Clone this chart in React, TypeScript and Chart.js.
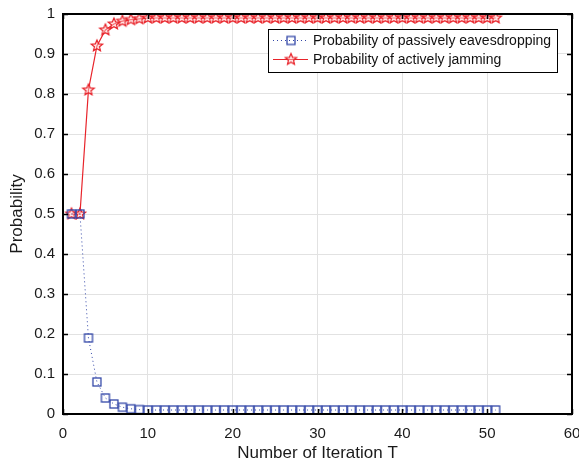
import React, { useEffect, useRef } from "react";
import { Chart, registerables } from "chart.js";

Chart.register(...registerables);

const iterations = [1, 2, 3, 4, 5, 6, 7, 8, 9, 10, 11, 12, 13, 14, 15, 16, 17, 18, 19, 20, 21, 22, 23, 24, 25, 26, 27, 28, 29, 30, 31, 32, 33, 34, 35, 36, 37, 38, 39, 40, 41, 42, 43, 44, 45, 46, 47, 48, 49, 50, 51];

const eavesdropping = [0.5, 0.5, 0.19, 0.08, 0.04, 0.025, 0.017, 0.013, 0.011, 0.01, 0.01, 0.01, 0.01, 0.01, 0.01, 0.01, 0.01, 0.01, 0.01, 0.01, 0.01, 0.01, 0.01, 0.01, 0.01, 0.01, 0.01, 0.01, 0.01, 0.01, 0.01, 0.01, 0.01, 0.01, 0.01, 0.01, 0.01, 0.01, 0.01, 0.01, 0.01, 0.01, 0.01, 0.01, 0.01, 0.01, 0.01, 0.01, 0.01, 0.01, 0.01];

const jamming = [0.5, 0.5, 0.81, 0.92, 0.96, 0.975, 0.982, 0.986, 0.988, 0.99, 0.99, 0.99, 0.99, 0.99, 0.99, 0.99, 0.99, 0.99, 0.99, 0.99, 0.99, 0.99, 0.99, 0.99, 0.99, 0.99, 0.99, 0.99, 0.99, 0.99, 0.99, 0.99, 0.99, 0.99, 0.99, 0.99, 0.99, 0.99, 0.99, 0.99, 0.99, 0.99, 0.99, 0.99, 0.99, 0.99, 0.99, 0.99, 0.99, 0.99, 0.99];

const seriesLabels = ["Probability of passively eavesdropping", "Probability of actively jamming"];
const xTitle = "Number of Iteration T";
const yTitle = "Probability";

const BLUE = "#3347a8";
const RED = "#e8232a";
const FONT = "'Liberation Sans', Arial, sans-serif";

function makeStar(color: string, r: number): HTMLCanvasElement {
  const size = Math.ceil(r * 2 + 4);
  const c = document.createElement("canvas");
  c.width = size;
  c.height = size;
  const g = c.getContext("2d")!;
  const cx = size / 2;
  const cy = size / 2;
  const inner = r * 0.45;
  g.beginPath();
  for (let i = 0; i < 10; i++) {
    const rad = i % 2 === 0 ? r : inner;
    const a = -Math.PI / 2 + (i * Math.PI) / 5;
    const px = cx + rad * Math.cos(a);
    const py = cy + rad * Math.sin(a);
    if (i === 0) g.moveTo(px, py);
    else g.lineTo(px, py);
  }
  g.closePath();
  g.fillStyle = "rgba(255,200,200,0.5)";
  g.fill();
  g.strokeStyle = color;
  g.lineWidth = 1.2;
  g.stroke();
  return c;
}

function makeSquare(color: string, s: number): HTMLCanvasElement {
  const size = Math.ceil(s + 4);
  const c = document.createElement("canvas");
  c.width = size;
  c.height = size;
  const g = c.getContext("2d")!;
  g.strokeStyle = color;
  g.lineWidth = 1.3;
  const o = (size - s) / 2;
  g.strokeRect(o, o, s, s);
  return c;
}

export default function App() {
  const ref = useRef<HTMLCanvasElement>(null);

  useEffect(() => {
    document.body.style.margin = "0";
    const star = makeStar(RED, 6);
    const square = makeSquare(BLUE, 8);

    const framePlugin = {
      id: "frame",
      afterDraw(chart: any) {
        const { ctx, chartArea: a, scales } = chart;
        ctx.save();
        ctx.strokeStyle = "#000";
        ctx.lineWidth = 1.5;
        const tl = 5;
        scales.x.ticks.forEach((t: any) => {
          const px = Math.round(scales.x.getPixelForValue(t.value)) + 0.5;
          ctx.beginPath();
          ctx.moveTo(px, a.bottom);
          ctx.lineTo(px, a.bottom - tl);
          ctx.moveTo(px, a.top);
          ctx.lineTo(px, a.top + tl);
          ctx.stroke();
        });
        scales.y.ticks.forEach((t: any) => {
          const py = Math.round(scales.y.getPixelForValue(t.value)) + 0.5;
          ctx.beginPath();
          ctx.moveTo(a.left, py);
          ctx.lineTo(a.left + tl, py);
          ctx.moveTo(a.right, py);
          ctx.lineTo(a.right - tl, py);
          ctx.stroke();
        });
        ctx.lineWidth = 2;
        ctx.strokeRect(a.left, a.top, a.right - a.left, a.bottom - a.top);

        // legend
        const lx = 268, ly = 29, lw = 289, lh = 43;
        ctx.fillStyle = "#fff";
        ctx.fillRect(lx, ly, lw, lh);
        ctx.lineWidth = 1;
        ctx.strokeStyle = "#000";
        ctx.strokeRect(lx + 0.5, ly + 0.5, lw, lh);
        const rows = [
          { y: 40, color: BLUE, dash: [1, 3], img: square, label: seriesLabels[0] },
          { y: 59, color: RED, dash: [], img: star, label: seriesLabels[1] },
        ];
        rows.forEach((r) => {
          ctx.strokeStyle = r.color;
          ctx.lineWidth = 1;
          ctx.setLineDash(r.dash);
          ctx.beginPath();
          ctx.moveTo(273, r.y + 0.5);
          ctx.lineTo(308, r.y + 0.5);
          ctx.stroke();
          ctx.setLineDash([]);
          ctx.drawImage(r.img, 291 - r.img.width / 2, r.y - r.img.height / 2 + 0.5);
          ctx.fillStyle = "#111";
          ctx.font = `14px ${FONT}`;
          ctx.textBaseline = "middle";
          ctx.textAlign = "left";
          ctx.fillText(r.label, 313, r.y + 1);
        });
        ctx.restore();
      },
    };

    const chart = new Chart(ref.current!, {
      type: "line",
      data: {
        datasets: [
          {
            label: seriesLabels[0],
            data: iterations.map((t, i) => ({ x: t, y: eavesdropping[i] })),
            borderColor: BLUE,
            borderWidth: 1,
            borderDash: [1, 3],
            pointStyle: square as any,
            pointRadius: 5,
            tension: 0,
          },
          {
            label: seriesLabels[1],
            data: iterations.map((t, i) => ({ x: t, y: jamming[i] })),
            borderColor: RED,
            borderWidth: 1.2,
            pointStyle: star as any,
            pointRadius: 6,
            tension: 0,
          },
        ],
      },
      options: {
        animation: false,
        responsive: false,
        maintainAspectRatio: false,
        layout: { autoPadding: false, padding: { top: 14, right: 7, left: 0, bottom: 0 } },
        plugins: { legend: { display: false }, tooltip: { enabled: false } },
        scales: {
          x: {
            type: "linear",
            min: 0,
            max: 60,
            ticks: { stepSize: 10, color: "#1a1a1a", font: { family: FONT, size: 15 }, padding: 11, maxRotation: 0 },
            grid: { color: "#e2e2e2", lineWidth: 1, drawTicks: false },
            border: { display: false },
            title: { display: true, text: xTitle, color: "#1a1a1a", font: { family: FONT, size: 17 }, padding: { top: 0, bottom: 0 } },
            afterFit: (s: any) => {
              s.height = 50;
              s.paddingLeft = 0;
              s.paddingRight = 0;
            },
          },
          y: {
            min: 0,
            max: 1,
            ticks: {
              stepSize: 0.1,
              color: "#1a1a1a",
              font: { family: FONT, size: 15 },
              padding: 8,
              callback: (v: any) => String(Number(Number(v).toFixed(1))),
            },
            grid: { color: "#e2e2e2", lineWidth: 1, drawTicks: false },
            border: { display: false },
            title: { display: true, text: yTitle, color: "#1a1a1a", font: { family: FONT, size: 17 }, padding: { top: 7, bottom: 0 } },
            afterFit: (s: any) => {
              s.width = 63;
              s.paddingTop = 0;
              s.paddingBottom = 0;
            },
          },
        },
      },
      plugins: [framePlugin],
    });
    return () => chart.destroy();
  }, []);

  return (
    <div style={{ position: "absolute", left: 0, top: 0, width: 579, height: 464 }}>
      <canvas ref={ref} width={579} height={464} style={{ width: 579, height: 464 }} />
    </div>
  );
}
